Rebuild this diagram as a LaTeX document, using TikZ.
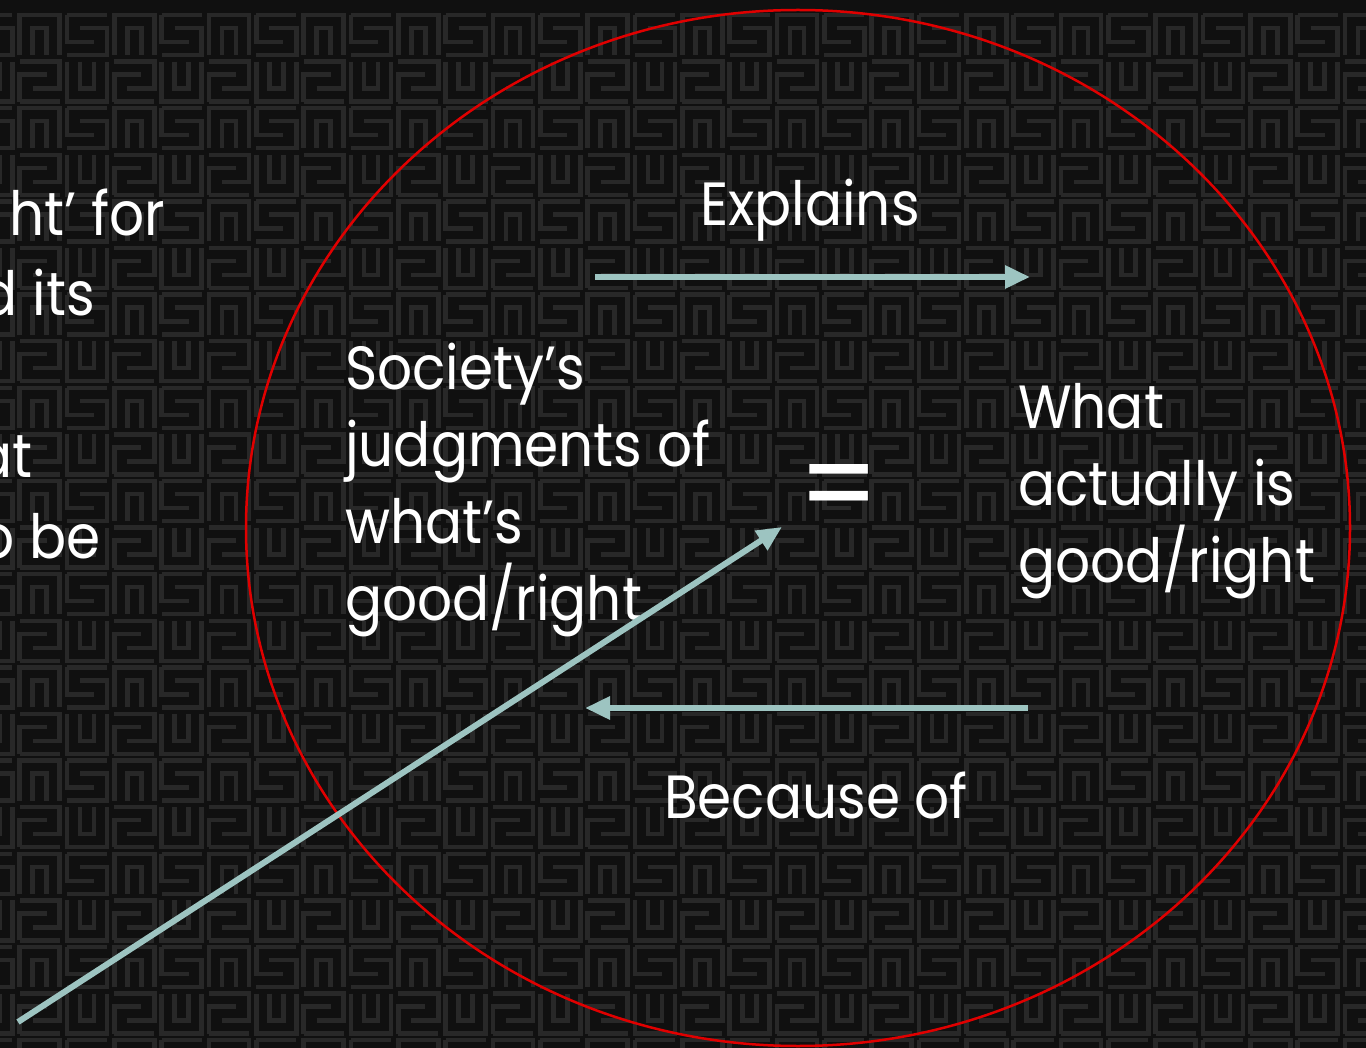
\documentclass[tikz,border=0pt]{standalone}
\usepackage{fontspec}
\setmainfont{Poppins}[FakeStretch=0.9]
\usetikzlibrary{arrows.meta,positioning}
\definecolor{bgblack}{HTML}{101010}
\definecolor{keygray}{HTML}{282828}
\definecolor{arrowteal}{HTML}{9DC4C1}
\definecolor{ringred}{HTML}{E00000}

\tikzset{
  pics/keyS/.style={code={
      \draw[keyline] (0,0) -- (40,0);
      \draw[keyline] (0,0) -- (0,27) -- (27,27);
      \draw[keyline] (13,13) -- (40,13) -- (40,40) -- (0,40);}},
  pics/keyN/.style={code={
      \draw[keyline] (0,40) -- (0,0) -- (40,0) -- (40,40);
      \draw[keyline] (13,40) -- (13,13) -- (27,13) -- (27,40);}}
}

\begin{document}
\begin{tikzpicture}[x=1pt,y=-1pt,
    keyline/.style={draw=keygray,line width=4.5pt,line cap=square},
    lbl/.style={text=white,font=\fontsize{61}{77}\selectfont,inner sep=0pt},
    arr/.style={draw=arrowteal,line width=6pt,
                -{Triangle[length=25pt,width=22pt]}}]
  \useasboundingbox (0,0) rectangle (1366,1048);
  \fill[bgblack] (0,0) rectangle (1366,1048);
  \clip (0,0) rectangle (1366,1048);

  % background key pattern
  \foreach \i in {0,...,14}
    \foreach \j in {0,...,11} {
      \pgfmathsetmacro{\tx}{-27.67+94.67*\i}
      \pgfmathsetmacro{\ty}{15+93.2*\j}
      \pic at (\tx,\ty) {keyS};
      \pic at (\tx+47.33,\ty) {keyN};
      \pic[yscale=-1] at (\tx,\ty+86.6) {keyN};
      \pic[yscale=-1] at (\tx+47.33,\ty+86.6) {keyS};
    }

  % text cut off from the previous column
  \node[lbl,anchor=base east] (cut1) at (165,236) {ht’ for};
  \node[lbl,anchor=base east] (cut2) at (95,316) {d its};
  \node[lbl,anchor=base east] (cut3) at (33,478) {at};
  \node[lbl,anchor=base east] (cut4) at (101,558) {o be};

  % the ring
  \draw[ringred,line width=2.5pt] (798,528) ellipse [x radius=552,y radius=518];

  \node[lbl,anchor=base] (explains) at (810,226) {Explains};
  \node[lbl,anchor=base] (because) at (816,818) {Because of};
  \node[lbl,anchor=base west,align=left] (society) at (345,620)
    {Society’s\\judgments of\\what’s\\good/right};
  \node[lbl,anchor=base west,align=left] (actual) at (1018,582)
    {What\\actually is\\good/right};
  \node[lbl,font=\fontsize{125}{125}\selectfont] (equals) at (839,496) {=};

  \coordinate (topL) at (595,277);
  \coordinate (topR) at (1030,277);
  \coordinate (botR) at (1028,708);
  \coordinate (botL) at (585,708);
  \coordinate (diagS) at (18,1022);
  \coordinate (diagE) at (782,527);
  \draw[arr] (topL) -- (topR);
  \draw[arr] (botR) -- (botL);
  \draw[arr] (diagS) -- (diagE);
\end{tikzpicture}
\end{document}
